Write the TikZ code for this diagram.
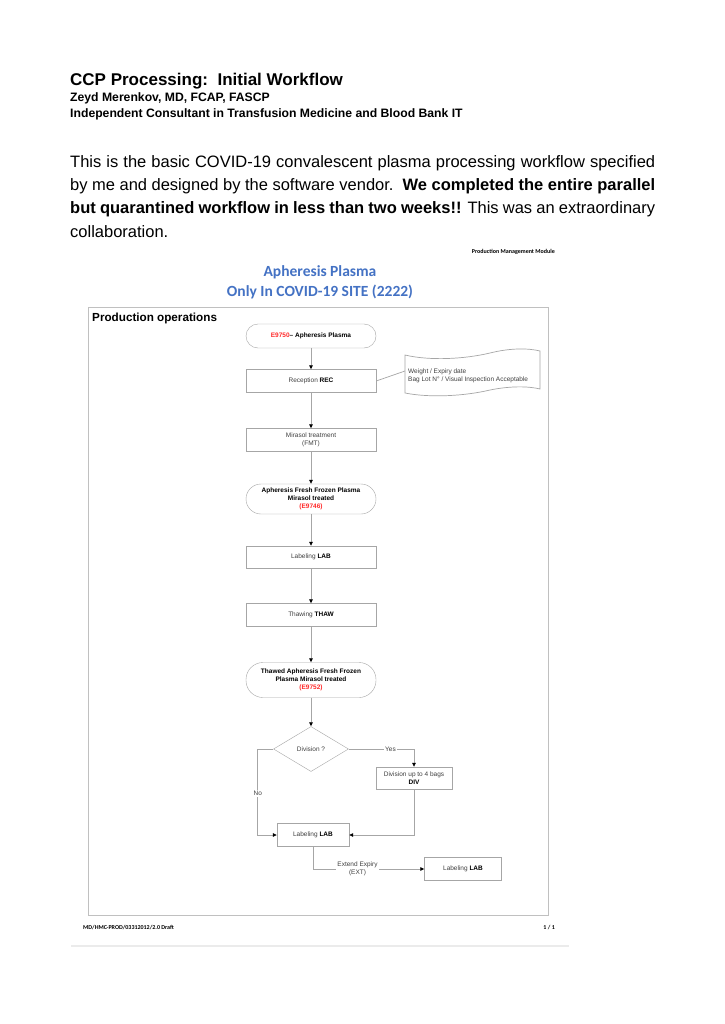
\documentclass[tikz,border=0pt]{standalone}
\usepackage{fontspec}
\setmainfont{Liberation Sans}
\newfontfamily\calibri{Carlito}
\usetikzlibrary{positioning, shapes.geometric, arrows.meta, calc}
\usepackage{xcolor}
\definecolor{ccpblue}{HTML}{4472C4}
\definecolor{ccpred}{HTML}{FF2A2A}
\definecolor{ccpline}{HTML}{A6A6A6}
\definecolor{ccptext}{HTML}{404040}
\definecolor{ccpframe}{HTML}{C0C0C0}
\definecolor{ccprule}{HTML}{EBEBEB}

\begin{document}
\begin{tikzpicture}[x=1pt, y=-1pt, font=\fontsize{6.5}{8}\selectfont,
    op/.style={draw=ccpline, fill=white, minimum width=130pt, minimum height=23pt,
               inner sep=1pt, align=center, text=ccptext},
    term/.style={op, rounded corners=12pt, text=black, font=\fontsize{6.5}{8}\selectfont\bfseries},
    dec/.style={diamond, draw=ccpline, fill=white, minimum width=75pt, minimum height=45pt,
                inner sep=0pt, text=ccptext},
    flow/.style={draw=ccpline, line width=0.7pt, -{Triangle[length=4pt, width=3.5pt, color=black]}},
    lbl/.style={fill=white, inner sep=1pt, text=ccptext},
    bodyline/.style={anchor=base west, inner sep=0pt, font=\fontsize{16.5}{23}\selectfont}]
    \fill[white] (0,0) rectangle (724,1024);
    \useasboundingbox (0,0) rectangle (724,1024);

    % page heading
    \node[anchor=base west, inner sep=0pt, font=\fontsize{17}{20}\selectfont\bfseries] (title) at (70,86)
      {CCP Processing:\ \ Initial Workflow};
    \node[anchor=base west, inner sep=0pt, font=\fontsize{12.2}{15}\selectfont\bfseries] (author) at (70,102)
      {Zeyd Merenkov, MD, FCAP, FASCP};
    \node[anchor=base west, inner sep=0pt, font=\fontsize{12.2}{15}\selectfont\bfseries] (affil) at (70,118)
      {Independent Consultant in Transfusion Medicine and Blood Bank IT};
    \node[bodyline] (body1) at (70,168) {\makebox[585pt][s]{This is the basic COVID-19 convalescent plasma processing workflow specified}};
    \node[bodyline] (body2) at (70,191) {\makebox[585pt][s]{by me and designed by the software vendor.\ \ \textbf{We completed the entire parallel}}};
    \node[bodyline] (body3) at (70,214) {\makebox[585pt][s]{\textbf{but quarantined workflow in less than two weeks!!} This was an extraordinary}};
    \node[bodyline] (body4) at (70,237) {collaboration.};

    % scanned document
    \node[anchor=east, inner sep=0pt, font=\calibri\bfseries\fontsize{6}{7}\selectfont] (module) at (555,252)
      {Production Management Module};
    \node[align=center, inner sep=0pt, text=ccpblue, font=\calibri\bfseries\fontsize{15.5}{20}\selectfont] (head) at (320,282)
      {Apheresis Plasma\\Only In COVID-19 SITE (2222)};
    \node[draw=ccpframe, line width=0.8pt, anchor=north west, inner sep=0pt,
          minimum width=460pt, minimum height=608pt] (frame) at (88,307) {};
    \node[anchor=base west, inner sep=0pt, font=\fontsize{11.7}{14}\selectfont\bfseries] (ops) at (92,321)
      {Production operations};

    \node[term, minimum height=24pt] (start) at (311,336) {\textcolor{ccpred}{E9750}-- Apheresis Plasma};
    \node[op] (rec) at (311,381) {Reception \textbf{\color{black}REC}};
    \node[op] (fmt) at (311,440) {Mirasol treatment\\(FMT)};
    \node[term, minimum height=30pt, rounded corners=15pt] (ffp) at (311,499)
      {Apheresis Fresh Frozen Plasma\\Mirasol treated\\\textcolor{ccpred}{(E9746)}};
    \node[op, minimum height=22pt] (lab) at (311,557) {Labeling \textbf{\color{black}LAB}};
    \node[op] (thaw) at (311,615) {Thawing \textbf{\color{black}THAW}};
    \node[term, minimum height=35pt, rounded corners=17pt] (tffp) at (311,680)
      {Thawed Apheresis Fresh Frozen\\Plasma Mirasol treated\\\textcolor{ccpred}{(E9752)}};
    \node[dec] (divq) at (311,749) {Division ?};
    \node[op, minimum width=76pt, minimum height=22pt] (div) at (414,778)
      {Division up to 4 bags\\\textbf{\color{black}DIV}};
    \node[op, minimum width=72pt] (labno) at (313,835) {Labeling \textbf{\color{black}LAB}};
    \node[op, minimum width=77pt] (labext) at (463,869) {Labeling \textbf{\color{black}LAB}};

    % note on reception
    \draw[ccpline, line width=0.7pt, fill=white] (405,355) .. controls (430,361) and (465,359) .. (490,353)
      .. controls (510,348) and (528,348) .. (540,351) -- (540,389)
      .. controls (528,386) and (510,386) .. (490,390) .. controls (465,396) and (430,398) .. (405,393) -- cycle;
    \node[anchor=west, align=left, inner sep=0pt, text=ccptext] (note) at (408,376)
      {Weight / Expiry date\\Bag Lot N° / Visual Inspection Acceptable};
    \coordinate (notein) at (405,371);
    \draw[ccpline, line width=0.7pt] (rec.east) -- (notein);

    \draw[flow] (start) -- (rec);
    \draw[flow] (rec) -- (fmt);
    \draw[flow] (fmt) -- (ffp);
    \draw[flow] (ffp) -- (lab);
    \draw[flow] (lab) -- (thaw);
    \draw[flow] (thaw) -- (tffp);
    \draw[flow] (tffp) -- (divq);
    \draw[flow] (divq.east) -| node[lbl, pos=0.32] {Yes} (div.north);
    \draw[flow] (divq.west) -| node[lbl, pos=0.76] {No} ([xshift=-19pt]labno.west) -- (labno.west);
    \draw[flow] (div.south) |- (labno.east);
    \draw[flow] (labno.south) |- node[lbl, pos=0.7, align=center] {Extend Expiry\\(EXT)} (labext.west);

    % footer
    \node[anchor=base west, inner sep=0pt, font=\calibri\bfseries\fontsize{6}{7}\selectfont] (docref) at (83,929)
      {MD/HMC-PROD/03312012/2.0 Draft};
    \node[anchor=base east, inner sep=0pt, font=\calibri\bfseries\fontsize{6}{7}\selectfont] (pageno) at (555,929)
      {1 / 1};
    \draw[ccprule, line width=1.2pt] (71,946) -- (569,946);
\end{tikzpicture}
\end{document}
